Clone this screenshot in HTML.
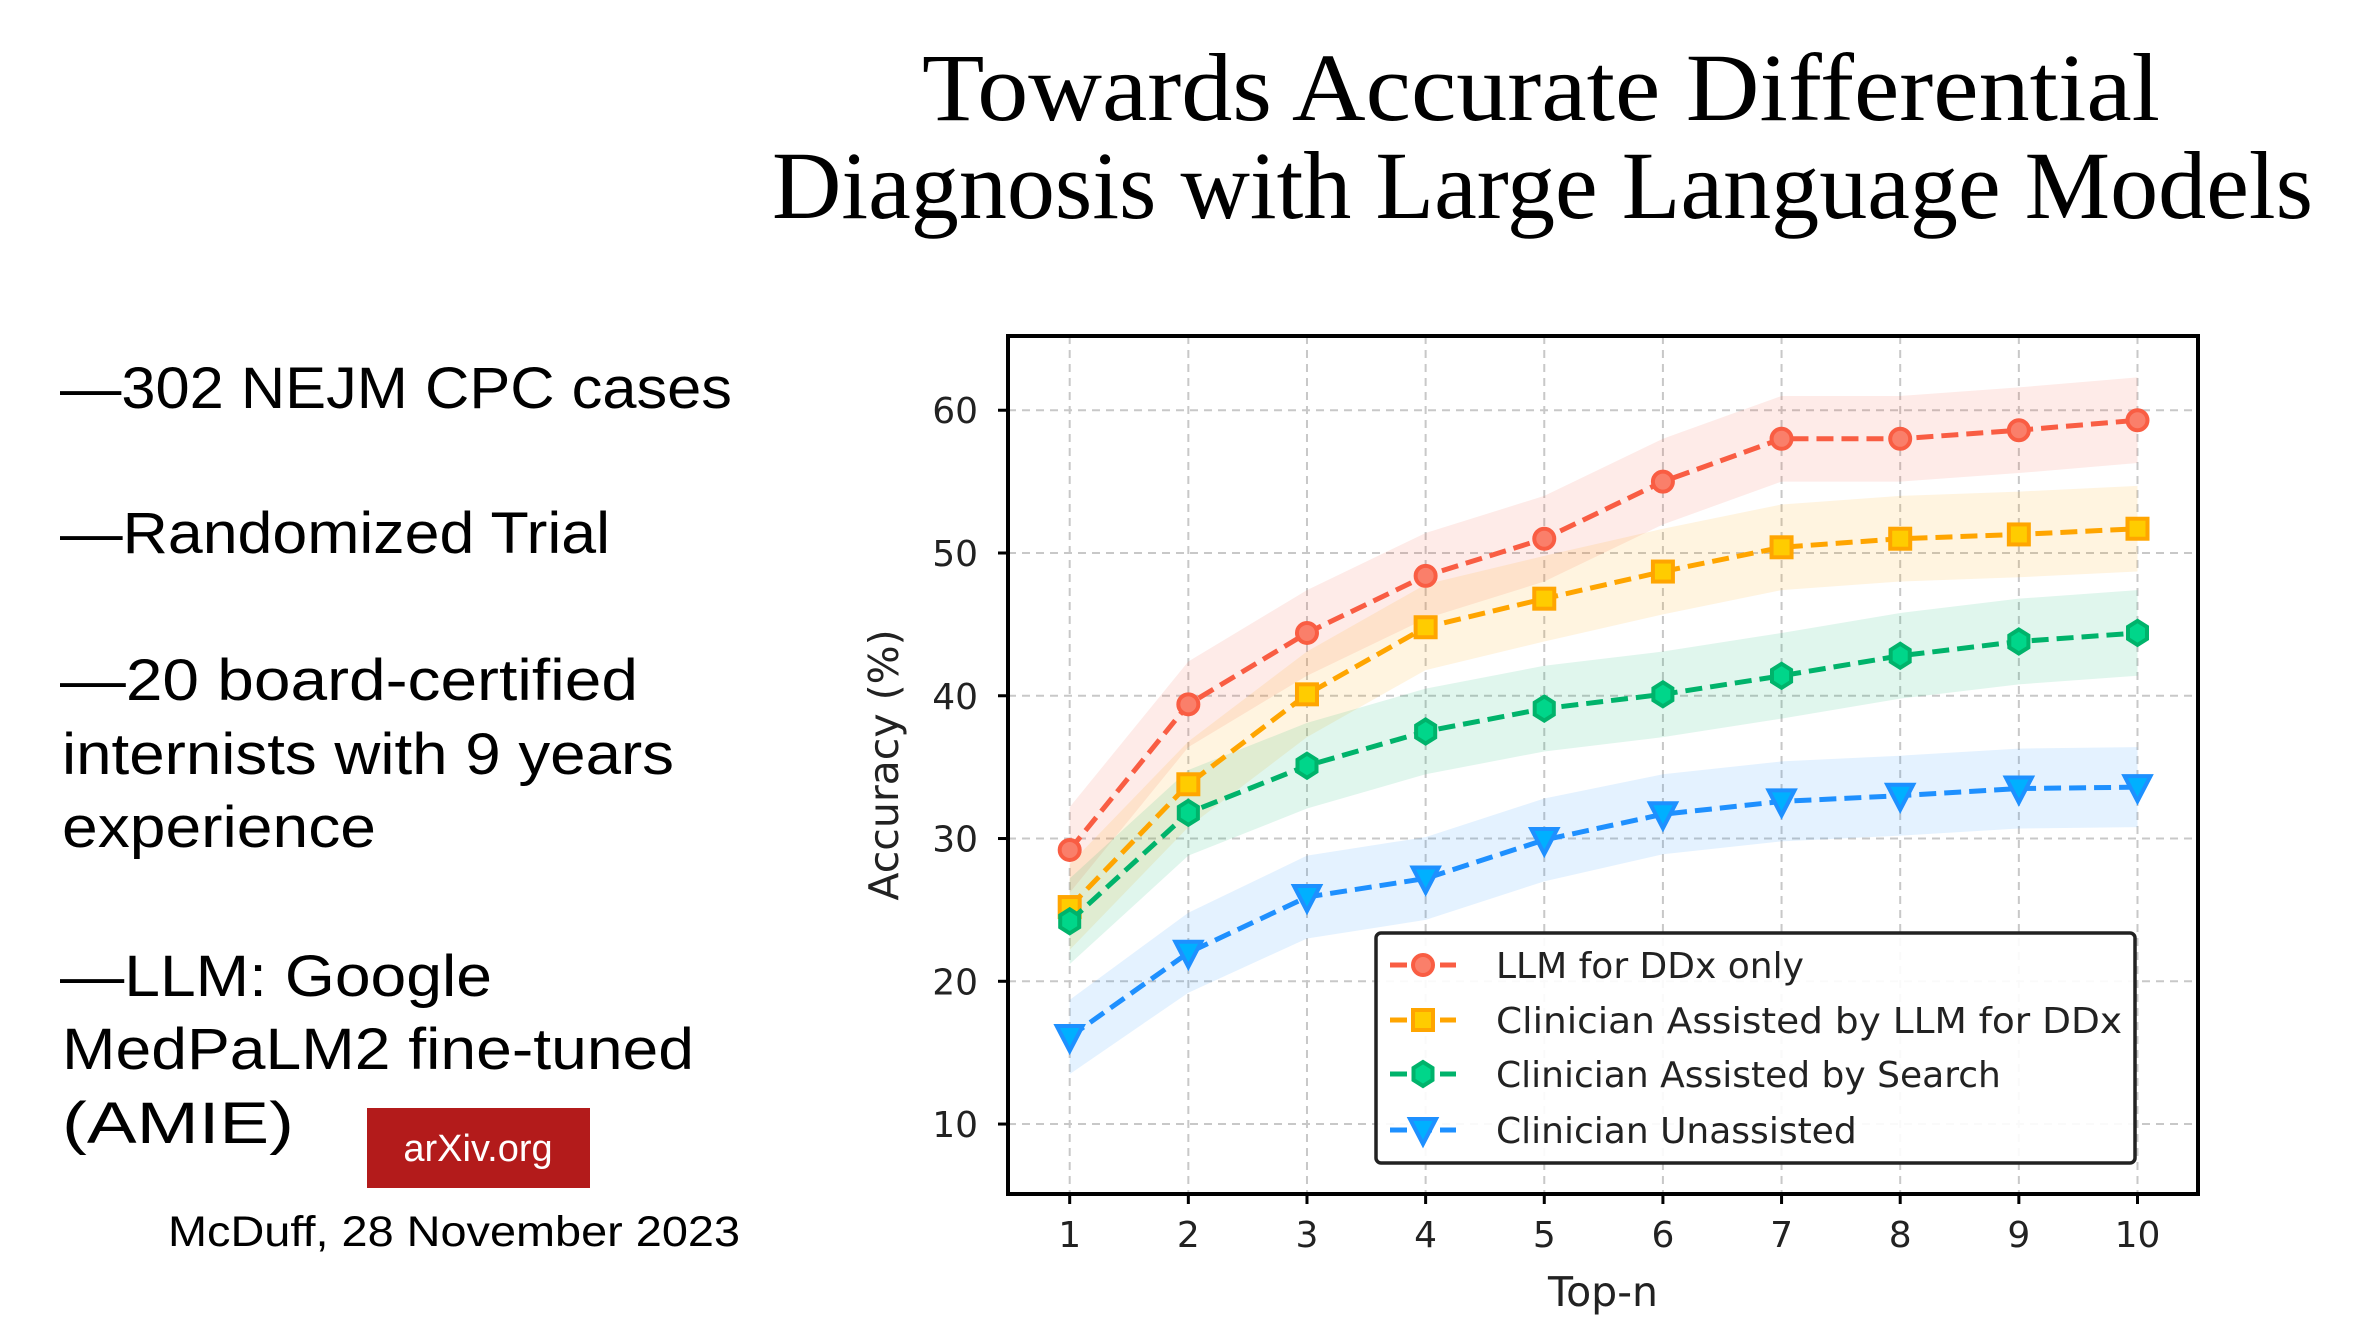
<!DOCTYPE html>
<html><head><meta charset="utf-8"><style>
html,body{margin:0;padding:0;background:#fff;}
svg{display:block;}
</style></head><body>
<svg id="chart" width="2354" height="1336" viewBox="0 0 2354 1336" xmlns="http://www.w3.org/2000/svg">
<rect width="2354" height="1336" fill="#fff"/>
<g font-family="'Liberation Serif', serif" font-size="96" fill="#000" text-anchor="start">
<text x="922" y="120" textLength="1238" lengthAdjust="spacingAndGlyphs">Towards Accurate Differential</text>
<text x="772" y="218" textLength="1541" lengthAdjust="spacingAndGlyphs">Diagnosis with Large Language Models</text>
</g>
<g font-family="'Liberation Sans', sans-serif" font-size="58" fill="#000">
<text x="60" y="408" textLength="672" lengthAdjust="spacingAndGlyphs">—302 NEJM CPC cases</text>
<text x="60" y="553" textLength="550" lengthAdjust="spacingAndGlyphs">—Randomized Trial</text>
<text x="60" y="700" textLength="578" lengthAdjust="spacingAndGlyphs">—20 board-certified</text>
<text x="62" y="774" textLength="612" lengthAdjust="spacingAndGlyphs">internists with 9 years</text>
<text x="62" y="847" textLength="314" lengthAdjust="spacingAndGlyphs">experience</text>
<text x="60" y="996" textLength="432" lengthAdjust="spacingAndGlyphs">—LLM: Google</text>
<text x="62" y="1069" textLength="632" lengthAdjust="spacingAndGlyphs">MedPaLM2 fine-tuned</text>
<text x="62" y="1143" textLength="232" lengthAdjust="spacingAndGlyphs">(AMIE)</text>
</g>
<g>
<rect x="367" y="1108" width="223" height="80" fill="#b31b1b"/>
<text x="478" y="1161" text-anchor="middle" font-family="'Liberation Sans', sans-serif" font-size="38" fill="#fff">arXiv.org</text>
</g>
<text x="168" y="1246" textLength="572" lengthAdjust="spacingAndGlyphs" font-family="'Liberation Sans', sans-serif" font-size="43" fill="#000">McDuff, 28 November 2023</text>
<g id="plot"></g>
</svg>
<script>
const categories = [1,2,3,4,5,6,7,8,9,10];
const yTicks = [10,20,30,40,50,60];
const seriesNames = ["LLM for DDx only","Clinician Assisted by LLM for DDx","Clinician Assisted by Search","Clinician Unassisted"];
const llmValues = [29.2,39.4,44.4,48.4,51.0,55.0,58.0,58.0,58.6,59.3];
const llmAssistValues = [25.2,33.8,40.1,44.8,46.8,48.7,50.4,51.0,51.3,51.7];
const searchValues = [24.2,31.8,35.1,37.5,39.1,40.1,41.4,42.8,43.8,44.4];
const unassistedValues = [16.1,22.0,25.9,27.2,29.9,31.7,32.6,33.0,33.5,33.6];
const llmSpread = [3.0,3.0,3.0,3.0,3.0,3.0,3.0,3.0,3.0,3.0];
const llmAssistSpread = [3.0,3.0,3.0,3.0,3.0,3.0,3.0,3.0,3.0,3.0];
const searchSpread = [3.0,3.0,3.0,3.0,3.0,3.0,3.0,3.0,3.0,3.0];
const unassistedSpread = [2.6,2.8,2.9,2.9,2.9,2.8,2.8,2.8,2.8,2.8];

const NS = "http://www.w3.org/2000/svg";
const L = 1008, R = 2198, T = 336, B = 1194;
const xMin = 0.48, xMax = 10.51, yMin = 5.1, yMax = 65.2;
function xs(v){ return L + (v - xMin) / (xMax - xMin) * (R - L); }
function ys(v){ return B - (v - yMin) / (yMax - yMin) * (B - T); }
const g = document.getElementById('plot');
function mk(tag, attrs, parent){
  const e = document.createElementNS(NS, tag);
  for (const k in attrs) e.setAttribute(k, attrs[k]);
  (parent || g).appendChild(e);
  return e;
}
categories.forEach(c => {
  const ln = mk('line', {x1: xs(c), x2: xs(c), y1: T, y2: B, stroke: '#c8c8c8', 'stroke-width': 2, 'stroke-dasharray': '8,6'});
  
  
});
yTicks.forEach(t => {
  const ln = mk('line', {x1: L, x2: R, y1: ys(t), y2: ys(t), stroke: '#c8c8c8', 'stroke-width': 2, 'stroke-dasharray': '8,6'});
  
  
});
const series = [
  {vals: llmValues, spread: llmSpread, line: '#f95d43', fill: '#fa7f6a', band: '#f95d43', marker: 'circle', key: 'llm-ddx-only'},
  {vals: llmAssistValues, spread: llmAssistSpread, line: '#ffa500', fill: '#ffcc00', band: '#ffa500', marker: 'square', key: 'clinician-llm'},
  {vals: searchValues, spread: searchSpread, line: '#00b36b', fill: '#00d68a', band: '#00b36b', marker: 'hex', key: 'clinician-search'},
  {vals: unassistedValues, spread: unassistedSpread, line: '#1e90ff', fill: '#00b0ff', band: '#1e90ff', marker: 'tri', key: 'clinician-unassisted'}
];
function marker(type, cx, cy, s, parent, name){
  let e;
  const sw = 4;
  if (type === 'circle') e = mk('circle', {cx, cy, r: 10, fill: s.fill, stroke: s.line, 'stroke-width': sw}, parent);
  else if (type === 'square') e = mk('rect', {x: cx-10, y: cy-10, width: 20, height: 20, fill: s.fill, stroke: s.line, 'stroke-width': sw}, parent);
  else if (type === 'hex') {
    const p = [];
    for (let i = 0; i < 6; i++){ const a = Math.PI/2 + i*Math.PI/3; p.push((cx + 11*Math.cos(a)).toFixed(1)+','+(cy - 12*Math.sin(a)).toFixed(1)); }
    e = mk('polygon', {points: p.join(' '), fill: s.fill, stroke: s.line, 'stroke-width': sw}, parent);
  } else {
    e = mk('polygon', {points: `${cx-13},${cy-11} ${cx+13},${cy-11} ${cx},${cy+14}`, fill: s.fill, stroke: s.line, 'stroke-width': sw, 'stroke-linejoin': 'miter'}, parent);
  }
  
  
  return e;
}
series.forEach(s => {
  const up = categories.map((c,i) => xs(c)+','+ys(s.vals[i]+s.spread[i]));
  const lo = categories.map((c,i) => xs(c)+','+ys(s.vals[i]-s.spread[i])).reverse();
  const p = mk('polygon', {points: up.concat(lo).join(' '), fill: s.band, 'fill-opacity': 0.12});
  
  
});
series.forEach(s => {
  const pl = mk('polyline', {points: categories.map((c,i) => xs(c)+','+ys(s.vals[i])).join(' '), fill: 'none', stroke: s.line, 'stroke-width': 5, 'stroke-dasharray': '17,8'});
  
  
  categories.forEach((c,i) => marker(s.marker, xs(c), ys(s.vals[i]), s, g, s.key + '-point'));
});
const fr = mk('rect', {x: L, y: T, width: R-L, height: B-T, fill: 'none', stroke: '#000', 'stroke-width': 4});


categories.forEach(c => {
  const tk = mk('line', {x1: xs(c), x2: xs(c), y1: B, y2: B+10, stroke: '#000', 'stroke-width': 3});
  
  
  const tx = mk('text', {x: xs(c), y: 1247, 'text-anchor': 'middle', 'font-family': "'DejaVu Sans', sans-serif", 'font-size': 36, fill: '#222'});
  tx.textContent = c;
  
  
});
yTicks.forEach(t => {
  const tk = mk('line', {x1: L-10, x2: L, y1: ys(t), y2: ys(t), stroke: '#000', 'stroke-width': 3});
  
  
  const tx = mk('text', {x: 978, y: ys(t)+13, 'text-anchor': 'end', 'font-family': "'DejaVu Sans', sans-serif", 'font-size': 36, fill: '#222'});
  tx.textContent = t;
  
  
});
const xl = mk('text', {x: (L+R)/2, y: 1306, 'text-anchor': 'middle', 'font-family': "'DejaVu Sans', sans-serif", 'font-size': 41, fill: '#222'});
xl.textContent = 'Top-n';


const yl = mk('text', {x: 0, y: 0, transform: `translate(898,${(T+B)/2}) rotate(-90)`, 'text-anchor': 'middle', 'font-family': "'DejaVu Sans', sans-serif", 'font-size': 41, fill: '#222'});
yl.textContent = 'Accuracy (%)';


const lg = mk('g', {});


const lb = mk('rect', {x: 1376, y: 933, width: 759, height: 230, rx: 5, fill: '#fff', 'fill-opacity': 0.9, stroke: '#222', 'stroke-width': 3.5}, lg);


const legY = [965, 1020, 1074, 1130];
series.forEach((s,i) => {
  const eg = mk('g', {}, lg);
  
  
  mk('line', {x1: 1390, x2: 1456, y1: legY[i], y2: legY[i], stroke: s.line, 'stroke-width': 5, 'stroke-dasharray': '17,8'}, eg);
  marker(s.marker, 1423, legY[i], s, eg, 'legend-marker');
  const t = mk('text', {x: 1496, y: legY[i]+13, 'font-family': "'DejaVu Sans', sans-serif", 'font-size': 36, fill: '#222', textLength: 626, lengthAdjust: 'spacingAndGlyphs'}, eg);
  t.textContent = seriesNames[i];
  if (i !== 1) t.removeAttribute('textLength');
  
  
});
</script>
</body></html>
